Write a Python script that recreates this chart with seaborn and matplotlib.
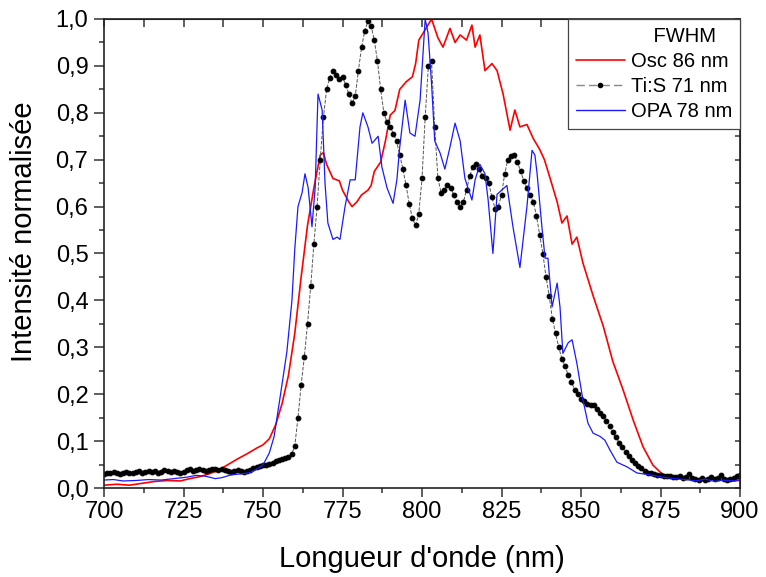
import numpy as np
import pandas as pd
import matplotlib
matplotlib.use("Agg")
import matplotlib.pyplot as plt
from matplotlib.lines import Line2D
from matplotlib.ticker import MultipleLocator, FuncFormatter
import seaborn as sns

sns.set_style("ticks")
plt.rcParams["font.family"] = ["Liberation Sans", "DejaVu Sans"]
plt.rcParams["text.color"] = "black"
plt.rcParams["axes.labelcolor"] = "black"
plt.rcParams["xtick.labelcolor"] = "black"
plt.rcParams["ytick.labelcolor"] = "black"

# ---------- data ----------
# Ti:S spectrum, sampled every 1 nm
tis_wl = np.arange(700, 901)
tis_int = [
    0.030, 0.033, 0.031, 0.034, 0.032, 0.030, 0.033, 0.035, 0.032, 0.031,
    0.034, 0.036, 0.033, 0.035, 0.037, 0.034, 0.036, 0.033, 0.035, 0.038,
    0.036, 0.034, 0.036, 0.035, 0.033, 0.035, 0.038, 0.040, 0.037, 0.039,
    0.041, 0.038, 0.036, 0.039, 0.041, 0.040, 0.038, 0.040, 0.039, 0.037,
    0.035, 0.036, 0.038, 0.037, 0.035, 0.037, 0.039, 0.042, 0.045, 0.047,
    0.049, 0.050, 0.052, 0.054, 0.057, 0.060, 0.062, 0.063, 0.066, 0.072,
    0.090, 0.150, 0.220, 0.280, 0.350, 0.430, 0.520, 0.600, 0.700, 0.790,
    0.850, 0.875, 0.890, 0.880, 0.872, 0.876, 0.860, 0.840, 0.820, 0.835,
    0.890, 0.940, 0.975, 0.995, 0.985, 0.955, 0.910, 0.850, 0.800, 0.780,
    0.770, 0.755, 0.740, 0.710, 0.680, 0.645, 0.605, 0.575, 0.560, 0.585,
    0.660, 0.790, 0.900, 0.910, 0.770, 0.660, 0.630, 0.635, 0.645, 0.640,
    0.625, 0.610, 0.600, 0.610, 0.635, 0.665, 0.685, 0.690, 0.680, 0.665,
    0.660, 0.650, 0.620, 0.595, 0.600, 0.625, 0.670, 0.700, 0.708, 0.710,
    0.695, 0.675, 0.655, 0.640, 0.625, 0.610, 0.580, 0.540, 0.500, 0.450,
    0.410, 0.360, 0.330, 0.300, 0.275, 0.260, 0.240, 0.225, 0.210, 0.200,
    0.190, 0.185, 0.180, 0.178, 0.176, 0.168, 0.160, 0.153, 0.143, 0.132,
    0.120, 0.108, 0.097, 0.087, 0.077, 0.068, 0.060, 0.053, 0.047, 0.042,
    0.037, 0.033, 0.031, 0.029, 0.028, 0.027, 0.026, 0.026, 0.025, 0.024,
    0.023, 0.025, 0.022, 0.024, 0.030, 0.022, 0.020, 0.018, 0.021, 0.017,
    0.019, 0.024, 0.020, 0.022, 0.027, 0.020, 0.017, 0.019, 0.022, 0.026,
    0.028,
]

# oscillator spectrum
osc_wl = [700, 704, 708, 712, 716, 720, 724, 727, 730, 733, 736, 739, 742, 745,
          748, 750, 752, 754, 756, 758, 760, 762, 764, 766, 768, 769, 770, 772,
          774, 775, 777, 778, 779.5, 781, 783, 784, 785, 787, 788.5, 790, 791.5,
          793, 795, 797, 798, 799, 801, 803, 805, 806.6, 808.8, 810.4, 812, 814,
          815.7, 816.7, 818.2, 819.8, 822, 823.6, 825.5, 827.7, 829.2, 830.8,
          833, 835, 837, 838.5, 840.3, 842.5, 844, 845.6, 847.2, 848.7, 850.6,
          853.8, 857, 860, 863.2, 866.4, 869.5, 872.6, 875.8, 879, 882, 885,
          888, 891, 894, 897, 900]
osc_int = [0.006, 0.008, 0.006, 0.010, 0.014, 0.016, 0.015, 0.020, 0.024, 0.030,
           0.038, 0.050, 0.062, 0.073, 0.085, 0.092, 0.105, 0.135, 0.180, 0.240,
           0.330, 0.450, 0.560, 0.640, 0.710, 0.715, 0.690, 0.660, 0.655, 0.635,
           0.610, 0.600, 0.610, 0.625, 0.635, 0.645, 0.675, 0.695, 0.740, 0.795,
           0.805, 0.850, 0.866, 0.877, 0.905, 0.955, 0.977, 1.000, 0.960, 0.940,
           0.980, 0.950, 0.966, 0.955, 0.987, 0.940, 0.966, 0.890, 0.905, 0.890,
           0.840, 0.763, 0.806, 0.770, 0.775, 0.745, 0.722, 0.700, 0.660, 0.610,
           0.565, 0.580, 0.520, 0.535, 0.480, 0.410, 0.345, 0.270, 0.210, 0.145,
           0.088, 0.049, 0.028, 0.022, 0.020, 0.018, 0.016, 0.020, 0.017, 0.015,
           0.016]

# OPA spectrum
opa_wl = [700, 703, 706, 710, 714, 718, 722, 726, 729, 732, 735, 737, 740, 743,
          746, 748, 750, 752, 753.5, 755.3, 757.5, 759.1, 760, 761, 762.3, 763.2,
          764.2, 765.4, 766.4, 767.3, 768.6, 769.5, 770.4, 772, 773.3, 774.2,
          775.8, 777.4, 779, 780.5, 781.4, 783, 784.3, 785.2, 786.2, 787.4, 789,
          790.9, 792.1, 793, 794.7, 796.2, 797.8, 799.4, 801, 801.9, 803, 804,
          805.7, 807.2, 808.8, 810.4, 812, 813.5, 815.7, 816.7, 818.2, 819.8,
          820.8, 822.3, 823.6, 825.2, 826.7, 828.6, 830.8, 833, 834.6, 835.5,
          836.2, 837.7, 838.7, 839.6, 840.9, 842.5, 843.4, 844.3, 846, 847.2,
          848.7, 850.6, 852.2, 853.8, 856, 857.5, 859.1, 861.3, 864.5, 867.6,
          871.7, 875, 879, 883, 886, 889, 892, 895, 898, 900]
opa_int = [0.017, 0.018, 0.015, 0.016, 0.018, 0.017, 0.020, 0.023, 0.027, 0.025,
           0.020, 0.022, 0.028, 0.030, 0.033, 0.040, 0.049, 0.075, 0.110, 0.190,
           0.290, 0.400, 0.510, 0.600, 0.630, 0.670, 0.640, 0.557, 0.640, 0.840,
           0.806, 0.650, 0.565, 0.530, 0.535, 0.530, 0.600, 0.657, 0.657, 0.770,
           0.800, 0.770, 0.735, 0.742, 0.750, 0.684, 0.640, 0.607, 0.657, 0.727,
           0.827, 0.757, 0.750, 0.827, 1.000, 0.970, 0.863, 0.740, 0.714, 0.680,
           0.727, 0.778, 0.740, 0.660, 0.614, 0.657, 0.690, 0.670, 0.614, 0.500,
           0.626, 0.636, 0.645, 0.557, 0.470, 0.600, 0.720, 0.710, 0.670, 0.557,
           0.490, 0.490, 0.386, 0.437, 0.386, 0.287, 0.310, 0.316, 0.266, 0.188,
           0.138, 0.117, 0.110, 0.102, 0.081, 0.055, 0.045, 0.032, 0.028, 0.024,
           0.020, 0.018, 0.015, 0.019, 0.014, 0.017, 0.015, 0.018]

labels = ["Osc 86 nm", "Ti:S 71 nm", "OPA 78 nm"]

osc = pd.DataFrame({"wl": osc_wl, "I": osc_int})
tis = pd.DataFrame({"wl": tis_wl, "I": tis_int})
opa = pd.DataFrame({"wl": opa_wl, "I": opa_int})

# ---------- figure ----------
fig = plt.figure(figsize=(7.66, 5.77), dpi=100)
ax = fig.add_axes([104 / 766, 1 - 488 / 577, 636 / 766, 469 / 577])

sns.lineplot(data=osc, x="wl", y="I", ax=ax, color="#ff0000", linewidth=1.2,
             sort=False, estimator=None)
sns.lineplot(data=tis, x="wl", y="I", ax=ax, color="#555555", linewidth=0.7,
             linestyle="--", marker="o", markersize=3.4,
             markerfacecolor="black", markeredgecolor="black",
             sort=False, estimator=None)
sns.lineplot(data=opa, x="wl", y="I", ax=ax, color="#1a1aff", linewidth=0.9,
             sort=False, estimator=None)

ax.set_xlim(700, 900)
ax.set_ylim(0, 1.0)
ax.xaxis.set_major_locator(MultipleLocator(25))
ax.xaxis.set_minor_locator(MultipleLocator(12.5))
ax.yaxis.set_major_locator(MultipleLocator(0.1))
ax.yaxis.set_minor_locator(MultipleLocator(0.05))
ax.yaxis.set_major_formatter(FuncFormatter(lambda v, p: f"{v:.1f}".replace(".", ",")))

ax.tick_params(which="major", direction="out", width=1.1, labelsize=17,
               color="#333333", labelcolor="black")
ax.tick_params(axis="x", which="major", length=6.5, pad=3)
ax.tick_params(axis="y", which="major", length=7.2, pad=4)
ax.tick_params(which="minor", direction="out", length=3.6, width=1.1,
               color="#333333")

# top / right axes with inward ticks, no labels
top = ax.secondary_xaxis("top")
top.xaxis.set_major_locator(MultipleLocator(25))
top.xaxis.set_minor_locator(MultipleLocator(12.5))
top.tick_params(which="both", direction="in", length=6, width=1.1,
                labeltop=False, color="#333333")
right = ax.secondary_yaxis("right")
right.yaxis.set_major_locator(MultipleLocator(0.1))
right.yaxis.set_minor_locator(MultipleLocator(0.05))
right.tick_params(which="both", direction="in", length=3.6, width=1.1,
                  labelright=False, color="#333333")

for sp in ax.spines.values():
    sp.set_linewidth(1.2)
    sp.set_color("#222222")
    sp.set_visible(True)

ax.set_xlabel("Longueur d'onde (nm)", fontsize=21, color="black")
ax.set_ylabel("Intensité normalisée", fontsize=21, color="black")
ax.xaxis.set_label_coords(0.5, -0.122)
ax.yaxis.set_label_coords(-0.104, 0.546)

# legend with an "FWHM" header row
handles = [
    Line2D([], [], color="none"),
    Line2D([], [], color="#ff0000", linewidth=1.2),
    Line2D([], [], color="#888888", linewidth=1.0, linestyle=(0, (6, 3)),
           marker="o", markersize=3, markerfacecolor="black",
           markeredgecolor="black"),
    Line2D([], [], color="#1a1aff", linewidth=1.0),
]
leg = ax.legend(handles, ["    FWHM"] + labels, loc="upper right",
                bbox_to_anchor=(1, 1), borderaxespad=0, fontsize=14.5,
                frameon=True, fancybox=False, edgecolor="#444444",
                framealpha=1, handlelength=2.4, handletextpad=0.3,
                labelspacing=0.3, borderpad=0.4, numpoints=1)
leg.get_frame().set_linewidth(0.9)
for t in leg.get_texts():
    t.set_color("black")

fig.savefig("out.png", dpi=100)
